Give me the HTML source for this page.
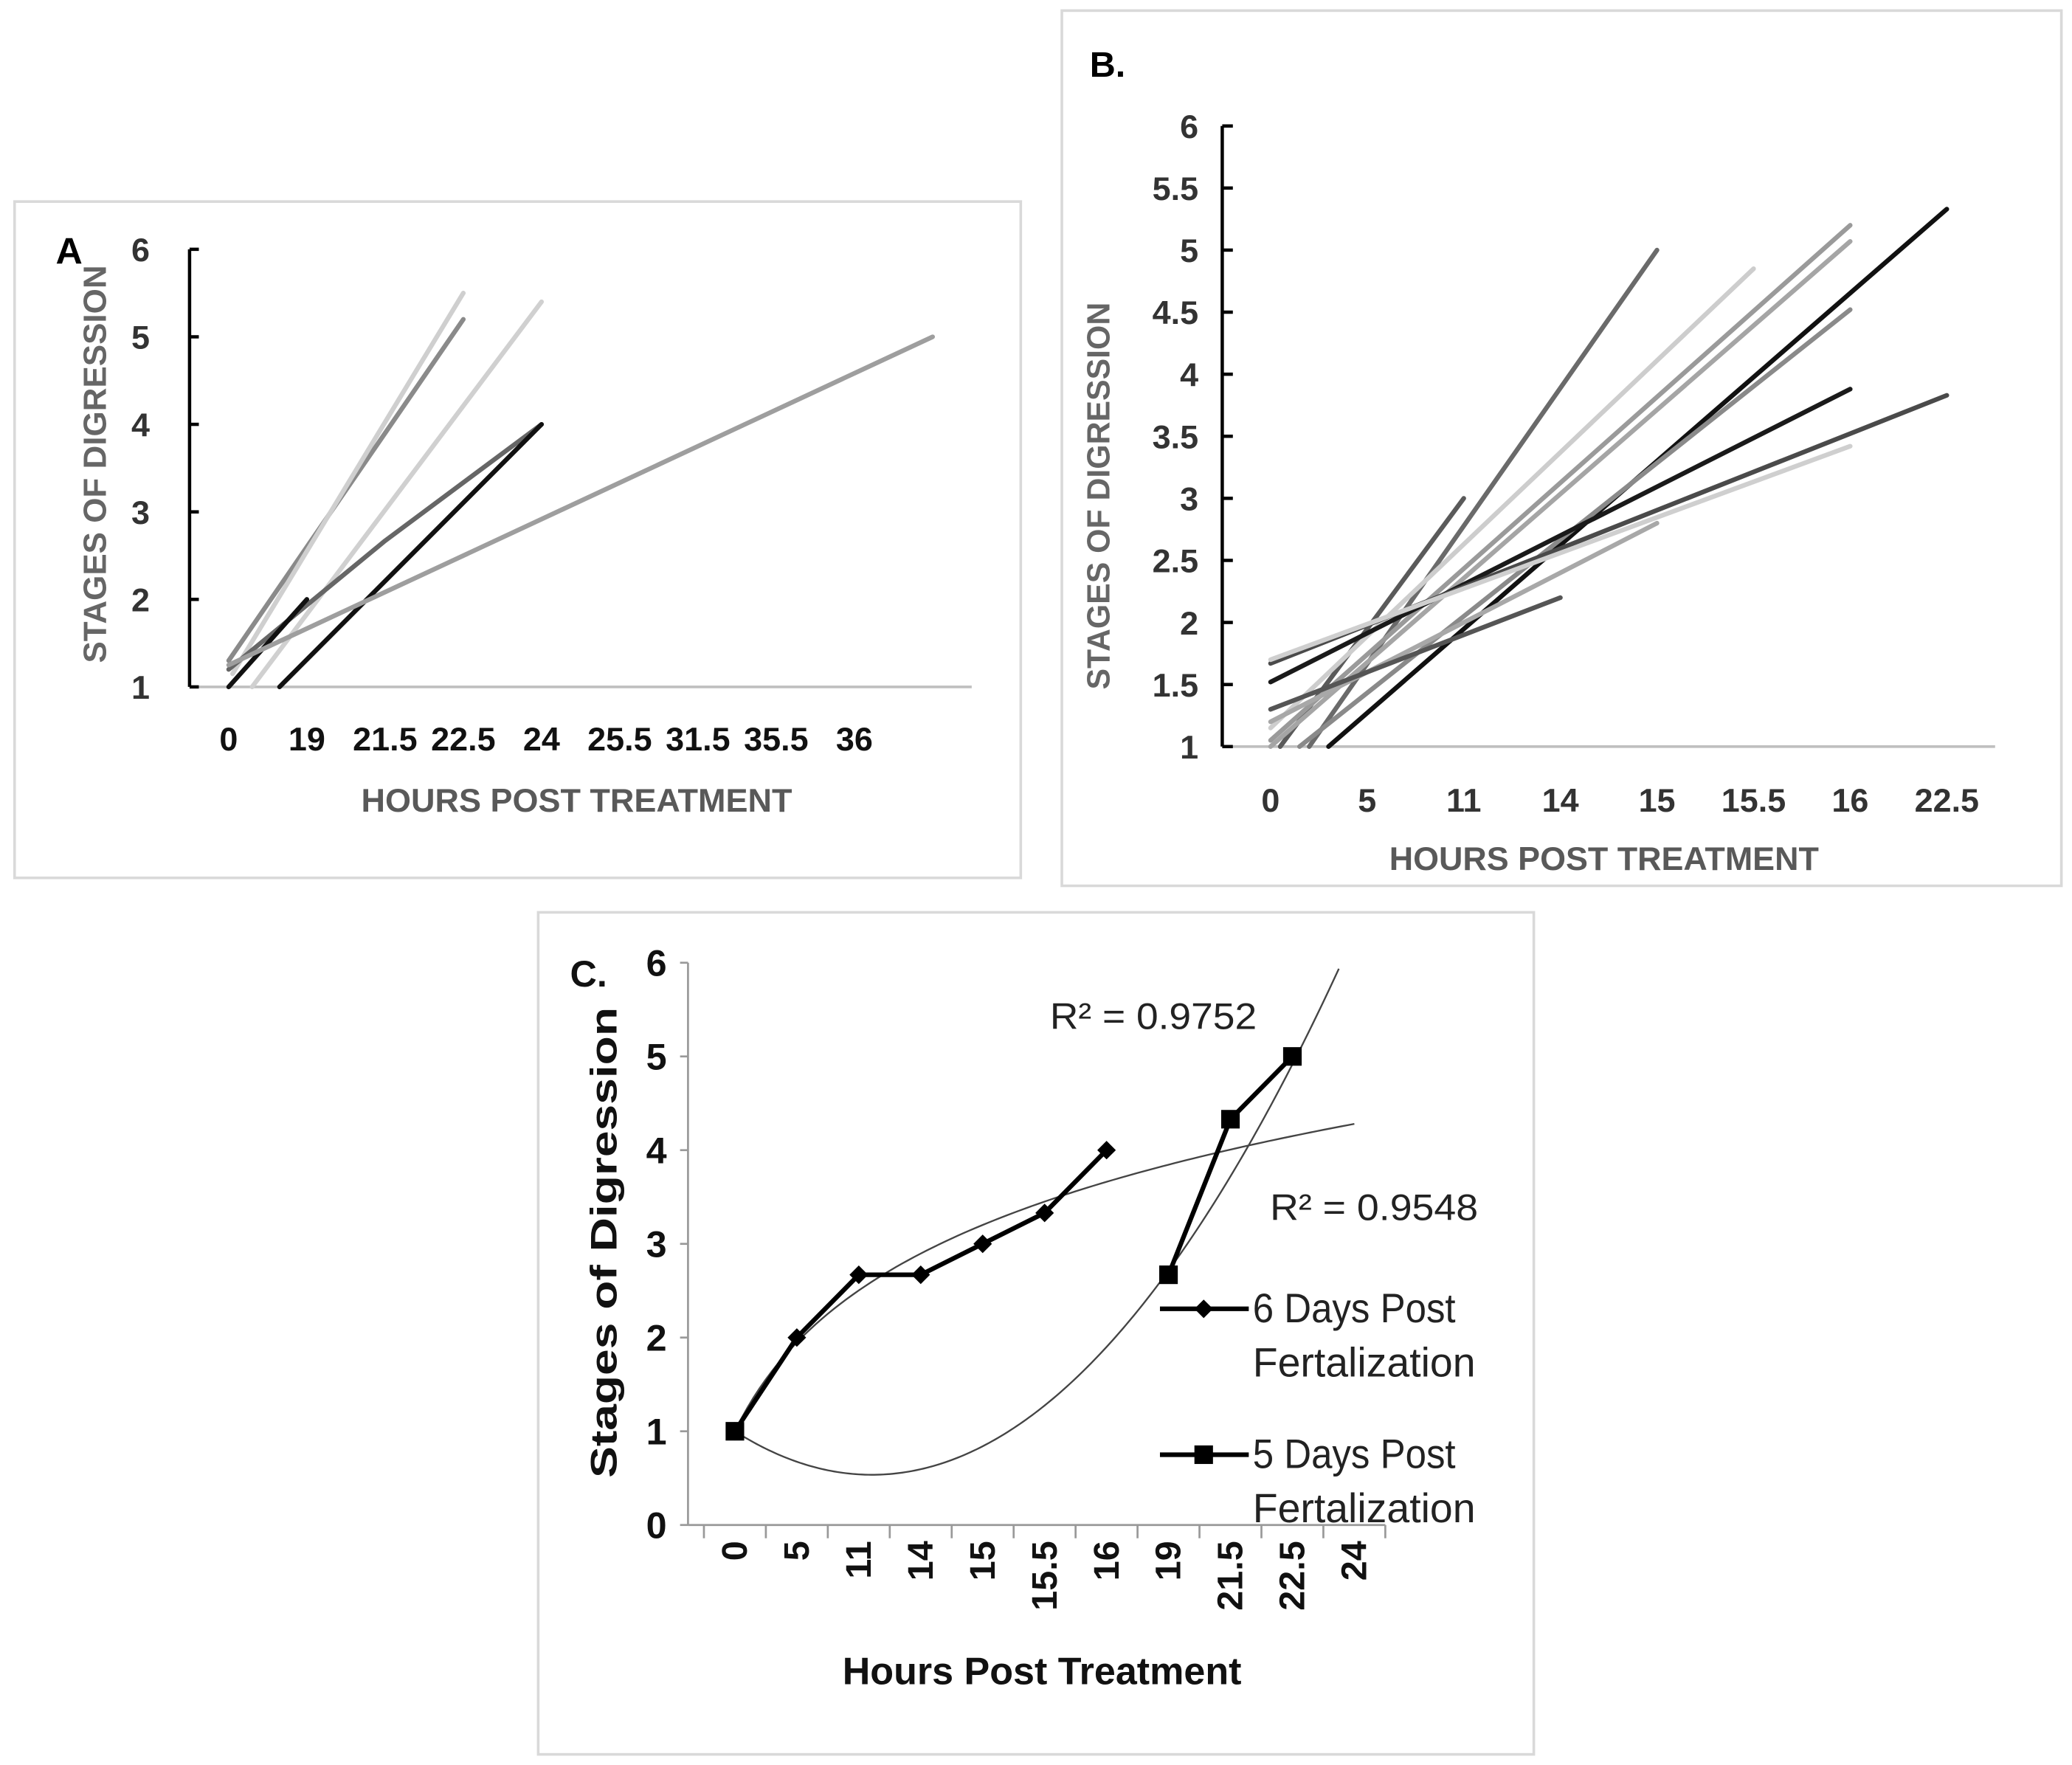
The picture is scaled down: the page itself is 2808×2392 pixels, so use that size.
<!DOCTYPE html>
<html><head><meta charset="utf-8"><style>
html,body{margin:0;padding:0;background:#fff;}
svg{display:block;}
text{font-family:"Liberation Sans Narrow","Liberation Sans",sans-serif;}
</style></head><body>
<svg id="fig" width="2808" height="2392" viewBox="0 0 1563 1331" preserveAspectRatio="none" xmlns="http://www.w3.org/2000/svg">
<rect x="11" y="152" width="759" height="510" fill="#fff" stroke="#d9d9d9" stroke-width="2"/>
<rect x="801" y="8" width="754" height="660" fill="#fff" stroke="#d9d9d9" stroke-width="2"/>
<rect x="406" y="688" width="751" height="635" fill="#fff" stroke="#d9d9d9" stroke-width="2"/>
<g id="A"></g>
<g id="B"></g>
<g id="C"></g>
</svg>
<script>
// ---------- Panel A data ----------
const aCategories = ["0","19","21.5","22.5","24","25.5","31.5","35.5","36",""];
const aYTicks = [1,2,3,4,5,6];
const aSeriesX = [[0,3],[0.05,3],[0.3,4],[0,2,4],[0,1],[0.65,4],[0,9]];
const aSeriesY = [[1.3,5.2],[1.15,5.5],[1,5.4],[1.2,2.67,4],[1,2],[1,4],[1.25,5]];
const aColors = ["#8a8a8a","#cfcfcf","#d0d0d0","#666","#111","#111","#9e9e9e"];
// ---------- Panel B data ----------
const bCategories = ["0","5","11","14","15","15.5","16","22.5"];
const bYTicks = [1,1.5,2,2.5,3,3.5,4,4.5,5,5.5,6];
const bSeriesX = [[0.4,4],[0.1,2],[0,5],[0,6],[0,6],[0.6,7],[0.3,6],[0,6],[0,7],[0,6],[0,4],[0,3]];
const bSeriesY = [[1,5],[1,3],[1.15,4.85],[1.05,5.2],[1,5.07],[1,5.33],[1,4.52],[1.52,3.88],[1.67,3.83],[1.7,3.42],[1.2,2.8],[1.3,2.2]];
const bColors = ["#6a6a6a","#5a5a5a","#cdcdcd","#9a9a9a","#a5a5a5","#111","#8a8a8a","#1a1a1a","#4a4a4a","#cfcfcf","#a8a8a8","#555"];
// ---------- Panel C data ----------
const cCategories = ["0","5","11","14","15","15.5","16","19","21.5","22.5","24"];
const cYTicks = [0,1,2,3,4,5,6];
const c6dpfX = [0,1,2,3,4,5,6];
const c6dpfY = [1,2,2.67,2.67,3,3.33,4];
const c5dpfX = [0,7,8,9];
const c5dpfY = [1,2.67,4.33,5];
const cLogCoef = [1,1.368];          // y = a + b ln(i+1)
const cPolyCoef = [1,-0.42,0.095];   // y = a + b i + c i^2

const NS="http://www.w3.org/2000/svg";
function mk(parent,tag,attrs,txt){const e=document.createElementNS(NS,tag);for(const k in attrs)e.setAttribute(k,attrs[k]);if(txt!==undefined)e.textContent=txt;parent.appendChild(e);return e;}
const LA='spacingAndGlyphs';

// ===== Panel A =====
(function(){
 const g=document.getElementById('A');
 const x0=143,x1=733,yBase=518,yTop=188;
 const step=(x1-x0)/aCategories.length;
 const xs=i=>x0+step/2+i*step;
 const ys=v=>yBase-(v-1)*(yBase-yTop)/5;
 let l=mk(g,'line',{x1:x0,y1:yBase,x2:x1,y2:yBase,stroke:'#bfbfbf','stroke-width':2});
 
 l=mk(g,'line',{x1:x0,y1:yTop,x2:x0,y2:yBase,stroke:'#000','stroke-width':2.5});
 
 aYTicks.forEach(v=>{
  const t=mk(g,'line',{x1:x0,y1:ys(v),x2:x0+7,y2:ys(v),stroke:'#000','stroke-width':2.5});
  
  const tx=mk(g,'text',{x:113,y:ys(v)+9,'text-anchor':'end','font-size':25,'font-weight':'bold',fill:'#333'},String(v));
  
 });
 aCategories.forEach((c,i)=>{
  const tx=mk(g,'text',{x:xs(i),y:566,'text-anchor':'middle','font-size':25,'font-weight':'bold',fill:'#111'},c);
  
 });
 aSeriesX.forEach((sx,k)=>{
  const pts=sx.map((x,j)=>xs(x)+','+ys(aSeriesY[k][j])).join(' ');
  const p=mk(g,'polyline',{points:pts,fill:'none',stroke:aColors[k],'stroke-width':3.5,'stroke-linecap':'round','stroke-linejoin':'round'});
  
 });
 let t=mk(g,'text',{x:42,y:199,'font-size':28,'font-weight':'bold',fill:'#000'},'A');
 
 t=mk(g,'text',{x:80,y:350,transform:'rotate(-90 80 350)','text-anchor':'middle','font-size':24,fill:'#666','font-weight':'bold',textLength:300,lengthAdjust:LA},'STAGES OF DIGRESSION');
 
 t=mk(g,'text',{x:435,y:612,'text-anchor':'middle','font-size':25,'font-weight':'bold',fill:'#595959',textLength:325,lengthAdjust:LA},'HOURS POST TREATMENT');
 
})();

// ===== Panel B =====
(function(){
 const g=document.getElementById('B');
 const x0=922,x1=1505,yBase=563,yTop=95;
 const step=(x1-x0)/bCategories.length;
 const xs=i=>x0+step/2+i*step;
 const ys=v=>yBase-(v-1)*(yBase-yTop)/5;
 let l=mk(g,'line',{x1:x0,y1:yBase,x2:x1,y2:yBase,stroke:'#bfbfbf','stroke-width':2});
 
 l=mk(g,'line',{x1:x0,y1:yTop,x2:x0,y2:yBase,stroke:'#000','stroke-width':2.5});
 
 bYTicks.forEach(v=>{
  const t=mk(g,'line',{x1:x0,y1:ys(v),x2:x0+8,y2:ys(v),stroke:'#000','stroke-width':2.5});
  
  const tx=mk(g,'text',{x:904,y:ys(v)+9,'text-anchor':'end','font-size':25,'font-weight':'bold',fill:'#333'},String(v));
  
 });
 bCategories.forEach((c,i)=>{
  const tx=mk(g,'text',{x:xs(i),y:612,'text-anchor':'middle','font-size':25,'font-weight':'bold',fill:'#333'},c);
  
 });
 bSeriesX.forEach((sx,k)=>{
  const pts=sx.map((x,j)=>xs(x)+','+ys(bSeriesY[k][j])).join(' ');
  const p=mk(g,'polyline',{points:pts,fill:'none',stroke:bColors[k],'stroke-width':3.5,'stroke-linecap':'round'});
  
 });
 let t=mk(g,'text',{x:822,y:58,'font-size':27,'font-weight':'bold',fill:'#000'},'B.');
 
 t=mk(g,'text',{x:837,y:374,transform:'rotate(-90 837 374)','text-anchor':'middle','font-size':24,fill:'#666','font-weight':'bold',textLength:292,lengthAdjust:LA},'STAGES OF DIGRESSION');
 
 t=mk(g,'text',{x:1210,y:656,'text-anchor':'middle','font-size':25,'font-weight':'bold',fill:'#595959',textLength:324,lengthAdjust:LA},'HOURS POST TREATMENT');
 
})();

// ===== Panel C =====
(function(){
 const g=document.getElementById('C');
 const x0=531,x1=1045,yBase=1150,yTop=726,ax=519;
 const step=(x1-x0)/cCategories.length;
 const xs=i=>x0+step/2+i*step;
 const ys=v=>yBase-v*(yBase-yTop)/6;
 let l=mk(g,'line',{x1:ax,y1:yBase,x2:x1,y2:yBase,stroke:'#999','stroke-width':1.5});
 
 l=mk(g,'line',{x1:ax,y1:yTop,x2:ax,y2:yBase,stroke:'#999','stroke-width':1.5});
 
 for(let i=0;i<=cCategories.length;i++){
  const t=mk(g,'line',{x1:x0+i*step,y1:yBase,x2:x0+i*step,y2:yBase+10,stroke:'#999','stroke-width':1.5});
  
 }
 cYTicks.forEach(v=>{
  const t=mk(g,'line',{x1:ax-6,y1:ys(v),x2:ax,y2:ys(v),stroke:'#999','stroke-width':1.5});
  
  const tx=mk(g,'text',{x:503,y:ys(v)+10,'text-anchor':'end','font-size':28,'font-weight':'bold',fill:'#111'},String(v));
  
 });
 cCategories.forEach((c,i)=>{
  const x=xs(i)+9,y=1162;
  const tx=mk(g,'text',{x:x,y:y,transform:'rotate(-90 '+x+' '+y+')','text-anchor':'end','font-size':27,'font-weight':'bold',fill:'#111'},c);
  
 });
 // trendlines
 let d='';
 for(let s=0;s<=100;s++){const i=s/10;d+=(s?'L':'M')+xs(i).toFixed(2)+','+ys(cLogCoef[0]+cLogCoef[1]*Math.log(i+1)).toFixed(2);}
 let p=mk(g,'path',{d:d,fill:'none',stroke:'#444','stroke-width':1.3});
 
 d='';let first=true;
 for(let s=0;s<=200;s++){const i=s/20;const v=cPolyCoef[0]+cPolyCoef[1]*i+cPolyCoef[2]*i*i;if(v>6)break;d+=(first?'M':'L')+xs(i).toFixed(2)+','+ys(v).toFixed(2);first=false;}
 p=mk(g,'path',{d:d,fill:'none',stroke:'#444','stroke-width':1.3});
 
 function segs(X,Y,name){
  for(let j=1;j<X.length;j++){
   if(X[j]-X[j-1]!==1)continue;
   const s=mk(g,'line',{x1:xs(X[j-1]),y1:ys(Y[j-1]),x2:xs(X[j]),y2:ys(Y[j]),stroke:'#000','stroke-width':3.5,'stroke-linecap':'round'});
   
  }
 }
 segs(c6dpfX,c6dpfY,'series-6dpf-line');
 segs(c5dpfX,c5dpfY,'series-5dpf-line');
 c6dpfX.forEach((x,j)=>{const cx=xs(x),cy=ys(c6dpfY[j]);
  const m=mk(g,'polygon',{points:`${cx},${cy-7} ${cx+7},${cy} ${cx},${cy+7} ${cx-7},${cy}`,fill:'#000'});
  });
 c5dpfX.forEach((x,j)=>{const cx=xs(x),cy=ys(c5dpfY[j]);
  const m=mk(g,'rect',{x:cx-7,y:cy-7,width:14,height:14,fill:'#000'});
  });
 let t=mk(g,'text',{x:792,y:776,'font-size':28,fill:'#222',textLength:156,lengthAdjust:LA},'R² = 0.9752');
 
 t=mk(g,'text',{x:958,y:920,'font-size':28,fill:'#222',textLength:157,lengthAdjust:LA},'R² = 0.9548');
 
 const lg=mk(g,'g',{});
 
 l=mk(lg,'line',{x1:875,y1:987,x2:942,y2:987,stroke:'#000','stroke-width':3.5});
 
 l=mk(lg,'polygon',{points:'908,980 915,987 908,994 901,987',fill:'#000'});
 
 t=mk(lg,'text',{x:945,y:997,'font-size':31,fill:'#222',textLength:153,lengthAdjust:LA},'6 Days Post');
 
 t=mk(lg,'text',{x:945,y:1038,'font-size':31,fill:'#222',textLength:168,lengthAdjust:LA},'Fertalization');
 
 l=mk(lg,'line',{x1:875,y1:1097,x2:942,y2:1097,stroke:'#000','stroke-width':3.5});
 
 l=mk(lg,'rect',{x:901,y:1090,width:14,height:14,fill:'#000'});
 
 t=mk(lg,'text',{x:945,y:1107,'font-size':31,fill:'#222',textLength:153,lengthAdjust:LA},'5 Days Post');
 
 t=mk(lg,'text',{x:945,y:1148,'font-size':31,fill:'#222',textLength:168,lengthAdjust:LA},'Fertalization');
 
 t=mk(g,'text',{x:430,y:744,'font-size':28,'font-weight':'bold',fill:'#111'},'C.');
 
 t=mk(g,'text',{x:465,y:937,transform:'rotate(-90 465 937)','text-anchor':'middle','font-size':28,'font-weight':'bold',fill:'#111',textLength:355,lengthAdjust:LA},'Stages of Digression');
 
 t=mk(g,'text',{x:786,y:1270,'text-anchor':'middle','font-size':29,'font-weight':'bold',fill:'#111',textLength:301,lengthAdjust:LA},'Hours Post Treatment');
 
})();
</script>
</body></html>
